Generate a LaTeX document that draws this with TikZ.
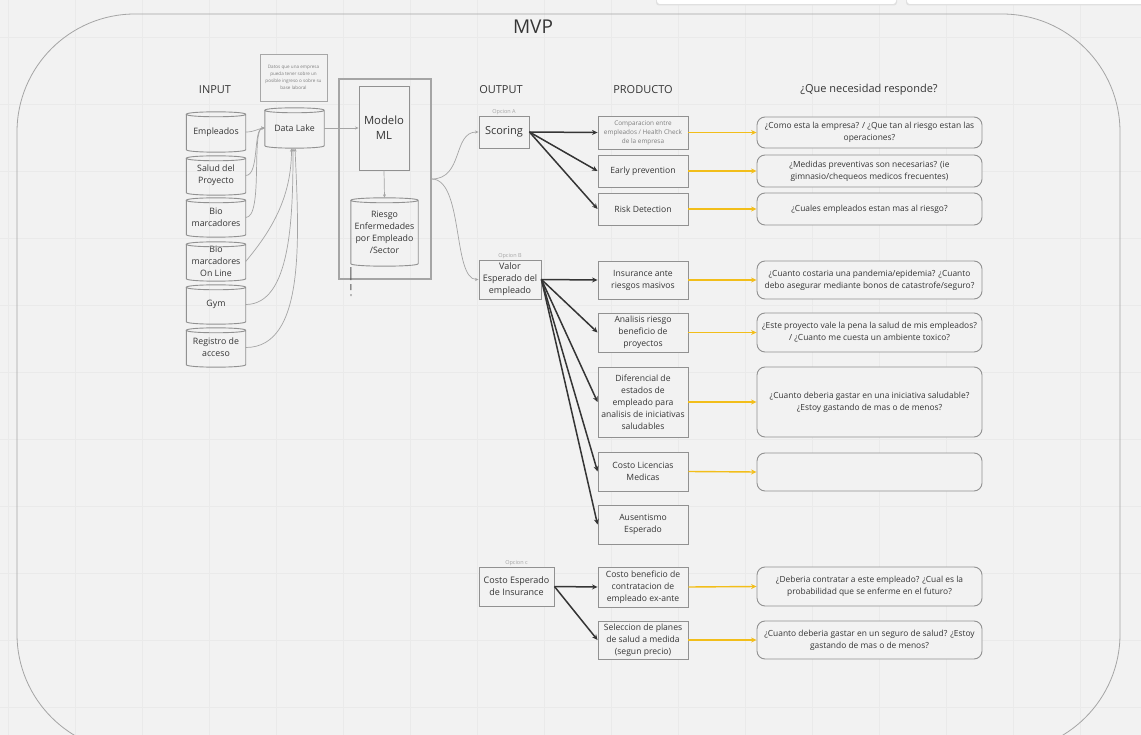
\documentclass[tikz,border=0pt]{standalone}
\usepackage{fontspec}
\setmainfont{Open Sans}
\usetikzlibrary{arrows.meta,calc}

\definecolor{bg}{HTML}{F2F2F2}
\definecolor{gridc}{HTML}{EAEAEA}
\definecolor{edge}{HTML}{919191}
\definecolor{ink}{HTML}{353535}
\definecolor{soft}{HTML}{A5A5A5}
\definecolor{gold}{HTML}{F2BE1A}
\definecolor{dim}{HTML}{7E7E7E}

\newcommand\fs[2]{\fontsize{#1}{#2}\selectfont}

\tikzset{
  gridline/.style={draw=gridc, line width=0.7pt},
  box/.style={rectangle, draw=edge, line width=0.9pt, fill=bg, text=ink,
    align=center, inner sep=1pt, font={\fs{8.6}{12}}},
  needbox/.style={box, rounded corners=8pt, font={\fs{8.4}{12}}},
  drumbox/.style={rectangle, draw=none, text=ink, align=center, inner sep=1pt,
    font={\fs{8.8}{12}}},
  drumline/.style={draw=edge, line width=0.9pt},
  head/.style={text=ink, font={\fs{11}{13}}},
  tag/.style={text=soft, font={\fs{5.5}{6}}, inner sep=1pt},
  feed/.style={draw=soft, line width=0.7pt, -{Stealth[length=3.5pt,width=3pt]}},
  link/.style={draw=ink, line width=1.5pt, -{Stealth[length=5.5pt,width=5pt]}},
  answer/.style={draw=gold, line width=1.4pt, -{Stealth[length=5.5pt,width=5pt]}},
}

% cylinder outline drawn around a named rectangular node
\newcommand\drawdrum[1]{%
  \draw[drumline] ($(#1.north west)+(0,2.5)$) coordinate (#1-tl)
    -- ($(#1.south west)+(0,-2.5)$)
    .. controls +(0,3.3) and +(0,3.3) .. ($(#1.south east)+(0,-2.5)$)
    -- ($(#1.north east)+(0,2.5)$) coordinate (#1-tr)
    .. controls +(0,-3.3) and +(0,-3.3) .. (#1-tl)
    .. controls +(0,3.3) and +(0,3.3) .. (#1-tr);}
% name, x, y, width, height, text
\newcommand\drumnode[6]{%
  \node[drumbox, minimum width=#4pt, minimum height=#5pt] (#1) at (#2,#3) {#6};
  \drawdrum{#1}}

\begin{document}
\begin{tikzpicture}[x=1pt,y=-1pt]
\useasboundingbox (0,0) rectangle (1141,735);
\clip (0,0) rectangle (1141,735);

% canvas and grid
\fill[bg] (0,0) rectangle (1141,735);
\foreach \gx in {8,75,...,1080} \draw[gridline] (\gx,0) -- (\gx,735);
\foreach \gy in {37,104,...,707} \draw[gridline] (0,\gy) -- (1141,\gy);

% toolbar tabs along the top edge
\fill[black!12, rounded corners=3pt] (656,-6) rectangle (897,5.5);
\fill[white, rounded corners=3pt] (657,-6) rectangle (896,4);
\fill[black!12, rounded corners=3pt] (906,-6) rectangle (1145,5.5);
\fill[white, rounded corners=3pt] (907,-6) rectangle (1145,4);

% outer frame
\draw[draw=soft, line width=0.8pt, rounded corners=118pt] (17,14) rectangle (1120,752);
\node[text=ink, font={\fs{19}{22}}] (title) at (533,27) {MVP};

% column headings
\node[head] (hin) at (215,90) {INPUT};
\node[head] (hout) at (501,90) {OUTPUT};
\node[head] (hprod) at (643,90) {PRODUCTO};
\node[head] (hneed) at (869,90) {¿Que necesidad responde?};

% inputs
\drumnode{emp}{216}{132}{59}{40}{Empleados}
\drumnode{salud}{216}{175.5}{59}{39}{Salud del\\Proyecto}
\drumnode{bio}{216}{217.5}{59}{39}{Bio\\marcadores}
\drumnode{bioon}{216}{261.5}{59}{39}{Bio\\marcadores\\On Line}
\drumnode{gym}{216}{304.5}{59}{39}{Gym}
\drumnode{reg}{216}{347.5}{59}{39}{Registro de\\acceso}

% data lake and its note
\node[box, draw=edge!80, minimum width=67pt, minimum height=47pt, text=dim,
  font={\fs{4.6}{6.8}}] (note) at (293.5,77.5)
  {Datos que una empresa\\pueda tener sobre un\\posible ingreso o sobre su\\base laboral};
\drumnode{dl}{294.5}{128}{59}{40}{Data Lake}

% model block
\node[rectangle, draw=soft, line width=1.3pt, minimum width=92pt,
  minimum height=200pt] (mlbox) at (385,179) {};
\node[box, minimum width=50pt, minimum height=84pt, font={\fs{11.3}{15}}]
  (modelo) at (384,128) {Modelo\\ML};
\drumnode{riesgo}{384.5}{232}{67}{68}{Riesgo\\Enfermedades\\por Empleado\\/Sector}
\coordinate (rtail) at (351,299);
\draw[draw=ink!85, line width=0.9pt,
  dash pattern=on 13pt off 4pt on 6pt off 4pt on 2pt off 3pt]
  ($(riesgo.south west)+(0,1)$) -- (rtail);

% feeds into the data lake
\draw[feed] (emp.east) .. controls +(9,0) and +(-8,1) .. (dl.west);
\draw[feed] (salud.east) .. controls +(14,0) and +(-12,0) .. (dl.west);
\draw[feed] (bio.east) .. controls +(18,0) and +(-14,0) .. (dl.west);
\draw[feed] (bioon.east) .. controls +(25,-30) and +(0,50) .. ($(dl.south)+(-3,0)$);
\draw[feed] (gym.east) .. controls +(45,0) and +(0,70) .. ($(dl.south)+(-1.5,0)$);
\draw[feed] (reg.east) .. controls +(60,0) and +(4,90) .. ($(dl.south)+(0.5,0)$);
\draw[feed] (dl.east) -- (modelo.west);
\draw[feed] (modelo.south) -- (riesgo.north);

% outputs
\node[box, minimum width=50pt, minimum height=32pt, font={\fs{11}{13}}]
  (scoring) at (504,132) {Scoring};
\node[box, minimum width=62pt, minimum height=39pt, font={\fs{9}{12}}]
  (valor) at (510,279.5) {Valor\\Esperado del\\empleado};
\node[box, minimum width=75pt, minimum height=39pt, font={\fs{9}{12}}]
  (costoesp) at (516.5,586.5) {Costo Esperado\\de Insurance};
\node[tag, anchor=south] (tagA) at (scoring.north) {Opcion A};
\node[tag, anchor=south] (tagB) at (valor.north) {Opcion B};
\node[tag, anchor=south] (tagC) at (costoesp.north) {Opcion c};

\draw[feed] (mlbox.east) .. controls +(32,0) and +(-26,0) .. (scoring.west);
\draw[feed] (mlbox.east) .. controls +(32,0) and +(-26,0) .. (valor.west);

% products
\node[box, minimum width=90pt, minimum height=33pt, text=dim, font={\fs{6.4}{9}}]
  (p1) at (643,132.5) {Comparacion entre\\empleados / Health Check\\de la empresa};
\node[box, minimum width=90pt, minimum height=32pt] (p2) at (643,171) {Early prevention};
\node[box, minimum width=90pt, minimum height=32pt] (p3) at (643,209) {Risk Detection};
\node[box, minimum width=90pt, minimum height=38pt] (p4) at (643,280) {Insurance ante\\riesgos masivos};
\node[box, minimum width=90pt, minimum height=39pt] (p5) at (643,332.5) {Analisis riesgo\\beneficio de\\proyectos};
\node[box, minimum width=90pt, minimum height=70pt] (p6) at (643,402)
  {Diferencial de\\estados de\\empleado para\\analisis de iniciativas\\saludables};
\node[box, minimum width=90pt, minimum height=39pt] (p7) at (643,471.5) {Costo Licencias\\Medicas};
\node[box, minimum width=90pt, minimum height=39pt] (p8) at (643,524.5) {Ausentismo\\Esperado};
\node[box, minimum width=90pt, minimum height=40pt] (p9) at (643,587) {Costo beneficio de\\contratacion de\\empleado ex-ante};
\node[box, minimum width=90pt, minimum height=38pt] (p10) at (643,640) {Seleccion de planes\\de salud a medida\\(segun precio)};

\foreach \p in {p1,p2,p3} \draw[link] (scoring.east) -- (\p.west);
\foreach \p in {p4,p5,p6,p7,p8} \draw[link] (valor.east) -- (\p.west);
\foreach \p in {p9,p10} \draw[link] (costoesp.east) -- (\p.west);

% needs answered
\node[needbox, minimum width=225pt, minimum height=31pt] (n1) at (869.5,132.5)
  {¿Como esta la empresa? / ¿Que tan al riesgo estan las\\operaciones?};
\node[needbox, minimum width=225pt, minimum height=32pt] (n2) at (869.5,171)
  {¿Medidas preventivas son necesarias? (ie\\gimnasio/chequeos medicos frecuentes)};
\node[needbox, minimum width=225pt, minimum height=32pt] (n3) at (869.5,209)
  {¿Cuales empleados estan mas al riesgo?};
\node[needbox, minimum width=225pt, minimum height=38pt] (n4) at (869.5,280)
  {¿Cuanto costaria una pandemia/epidemia? ¿Cuanto\\debo asegurar mediante bonos de catastrofe/seguro?};
\node[needbox, minimum width=225pt, minimum height=39pt] (n5) at (869.5,332.5)
  {¿Este proyecto vale la pena la salud de mis empleados?\\/ ¿Cuanto me cuesta un ambiente toxico?};
\node[needbox, minimum width=225pt, minimum height=70pt] (n6) at (869.5,402)
  {¿Cuanto deberia gastar en una iniciativa saludable?\\¿Estoy gastando de mas o de menos?};
\node[needbox, minimum width=225pt, minimum height=38pt] (n7) at (869.5,472) {};
\node[needbox, minimum width=225pt, minimum height=39pt] (n8) at (869.5,586.5)
  {¿Deberia contratar a este empleado? ¿Cual es la\\probabilidad que se enferme en el futuro?};
\node[needbox, minimum width=225pt, minimum height=38pt] (n9) at (869.5,640)
  {¿Cuanto deberia gastar en un seguro de salud? ¿Estoy\\gastando de mas o de menos?};

\draw[answer] (p1.east) -- (n1.west);
\draw[answer] (p2.east) -- (n2.west);
\draw[answer] (p3.east) -- (n3.west);
\draw[answer] (p4.east) -- (n4.west);
\draw[answer] (p5.east) -- (n5.west);
\draw[answer] (p6.east) -- (n6.west);
\draw[answer] (p7.east) -- (n7.west);
\draw[answer] (p9.east) -- (n8.west);
\draw[answer] (p10.east) -- (n9.west);
\end{tikzpicture}
\end{document}
